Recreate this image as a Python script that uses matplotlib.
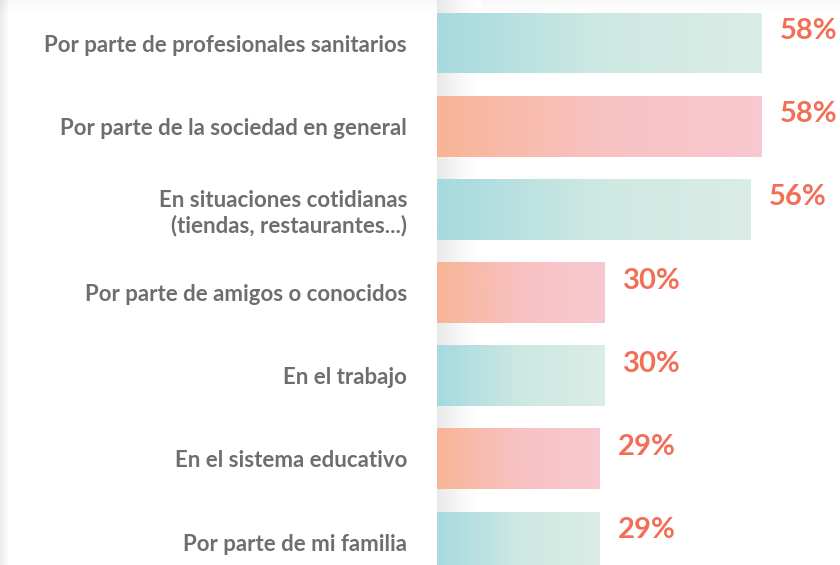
"""Horizontal bar chart with gradient bars (situations of discrimination)"""

import numpy as np
import matplotlib.pyplot as plt
from matplotlib.colors import LinearSegmentedColormap

# data
categories = [
    'Por parte de profesionales sanitarios',
    'Por parte de la sociedad en general',
    'En situaciones cotidianas\n(tiendas, restaurantes...)',
    'Por parte de amigos o conocidos',
    'En el trabajo',
    'En el sistema educativo',
    'Por parte de mi familia',
]
values = [58, 58, 56, 30, 30, 29, 29]
value_labels = ['58%', '58%', '56%', '30%', '30%', '29%', '29%']

# styling
teal = LinearSegmentedColormap.from_list('teal', [(0, '#a6dadf'), (0.5, '#cde8e2'), (1, '#daede6')])
coral = LinearSegmentedColormap.from_list('coral', [(0, '#f8b496'), (0.5, '#f8c2c2'), (1, '#f8c8d0')])
label_color = '#6d6e71'
pct_color = '#f26f57'
px_per_unit = 5.6  # pixels per percentage point

fig = plt.figure(figsize=(8.4, 5.65), dpi=100)
fig.patch.set_facecolor('white')

# soft card shadow on the left / top edges
bg = fig.add_axes([0, 0, 1, 1], zorder=0)
bg.set_axis_off()
xx = np.linspace(0, 840, 840)
yy = np.linspace(0, 565, 565)
X, Y = np.meshgrid(xx, yy)
shade = np.clip(1 - X / 9, 0, 1) * 0.08 + np.clip(1 - Y / 14, 0, 1) * 0.03
bg.imshow(1 - shade, cmap='gray', vmin=0, vmax=1, extent=[0, 840, 565, 0], aspect='auto')
bg.set_xlim(0, 840)
bg.set_ylim(565, 0)

left_px = 437
ax = fig.add_axes([left_px / 840, 0, (840 - left_px) / 840, 1], zorder=1)
ax.patch.set_alpha(0)
step = 83.2
xlim = (0, (840 - left_px) / px_per_unit)
ylim = ((565 - 43) / step, -43 / step)

# faint shadow strip behind bars
strip = np.linspace(0, 1, 100).reshape(1, -1)
ax.imshow(1 - 0.09 * (1 - strip) ** 1.5, cmap='gray', vmin=0, vmax=1,
          extent=[0, 8, ylim[0], ylim[1]], aspect='auto', zorder=0)

positions = np.arange(len(categories))
bar_h = 61 / step
bars = ax.barh(positions, values, height=bar_h, color='none', edgecolor='none', zorder=2)
grad = np.linspace(0, 1, 256).reshape(1, -1)
for i, (bar, v) in enumerate(zip(bars, values)):
    cmap = teal if i % 2 == 0 else coral
    y0 = bar.get_y()
    im = ax.imshow(grad, cmap=cmap, extent=[0, v, y0 + bar_h, y0], aspect='auto', zorder=2)
    im.set_clip_path(bar)
    ax.annotate(value_labels[i], (v, positions[i]), xytext=(13, 8.6), textcoords='offset points',
                ha='left', va='center', fontsize=21, fontweight='bold', color=pct_color,
                family='Lato')

ax.set_xlim(*xlim)
ax.set_ylim(*ylim)
ax.set_yticks(positions, categories)
ax.tick_params(axis='y', length=0, pad=21.6, labelsize=16, labelcolor=label_color)
for t in ax.get_yticklabels():
    t.set_fontfamily('Lato')
    t.set_fontweight('bold')
    t.set_linespacing(1.2)
ax.set_xticks([])
for s in ax.spines.values():
    s.set_visible(False)

fig.savefig('out.png', dpi=100)
